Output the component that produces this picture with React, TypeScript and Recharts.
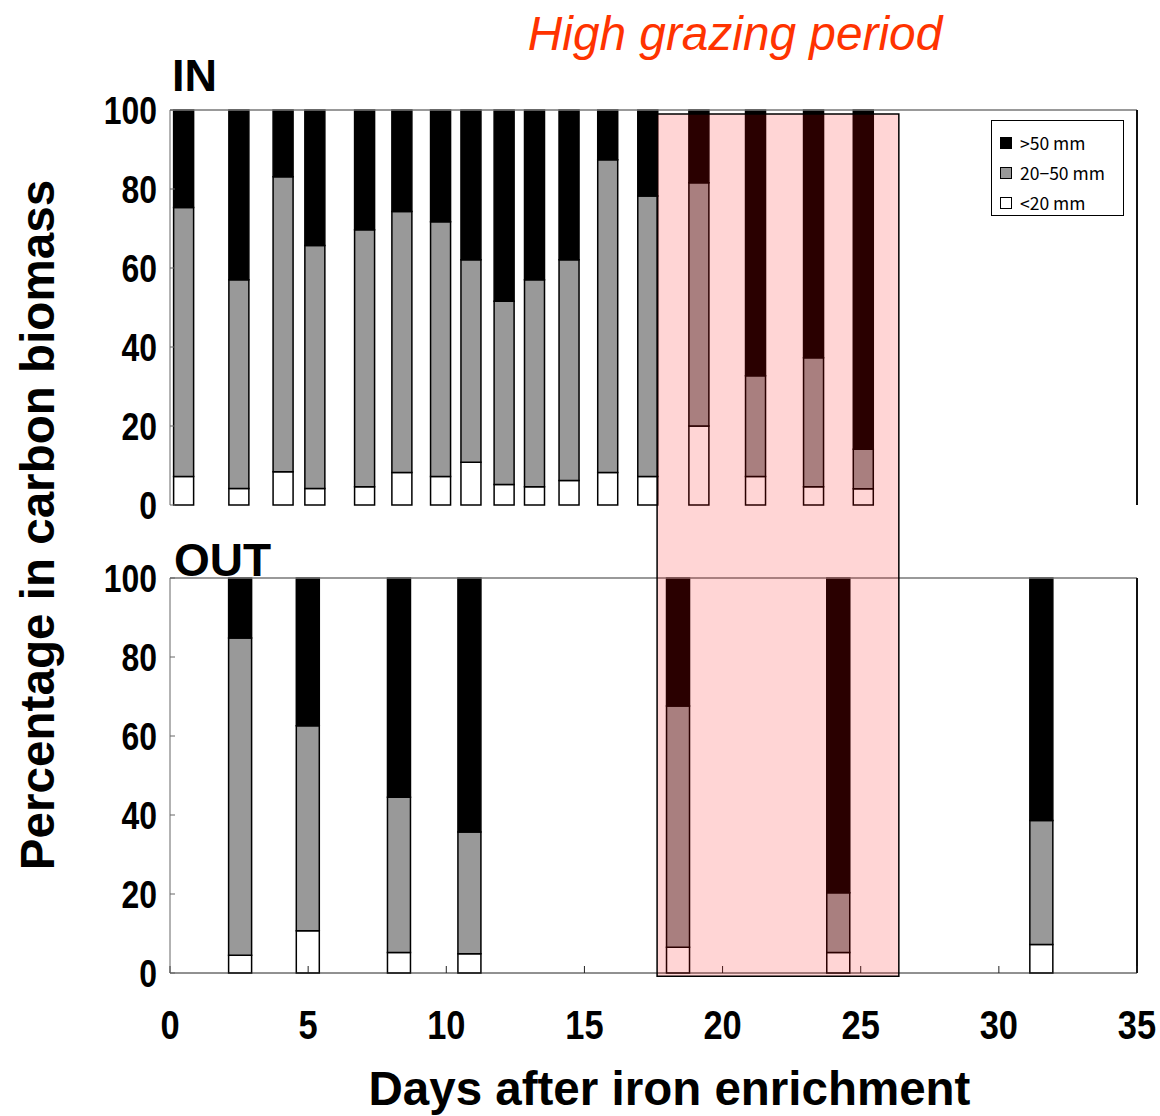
import { BarChart, Bar, XAxis, YAxis, ReferenceArea, ReferenceLine, Legend } from 'recharts'

// IN patch samples (day, % of carbon biomass by size class)
const inDays = [0.5, 2.5, 4.1, 5.25, 7.05, 8.4, 9.8, 10.9, 12.1, 13.2, 14.45, 15.85, 17.3, 19.15, 21.2, 23.3, 25.1]
const inSmall = [7.2, 4.2, 8.4, 4.2, 4.6, 8.2, 7.2, 10.8, 5.2, 4.6, 6.2, 8.2, 7.2, 20.0, 7.2, 4.6, 4.1]
const inMid = [68.1, 52.8, 74.7, 61.5, 65.1, 66.1, 64.5, 51.3, 46.4, 52.4, 55.9, 79.2, 71.0, 61.6, 25.5, 32.7, 10.0]
const inLarge = [24.7, 43.0, 16.9, 34.3, 30.3, 25.7, 28.3, 37.9, 48.4, 43.0, 37.9, 12.6, 21.8, 18.4, 67.3, 62.7, 85.9]

// OUT patch samples
const outDays = [2.55, 5.0, 8.3, 10.85, 18.4, 24.2, 31.55]
const outSmall = [4.5, 10.7, 5.2, 4.9, 6.5, 5.2, 7.2]
const outMid = [80.3, 51.9, 39.3, 30.8, 61.1, 15.1, 31.4]
const outLarge = [15.2, 37.4, 55.5, 64.3, 32.4, 79.7, 61.4]

const xTicks = [0, 5, 10, 15, 20, 25, 30, 35]
const yTicks = [0, 20, 40, 60, 80, 100]
const legendItems = ['>50 mm', '20\u221250 mm', '<20 mm']
const legendColors = ['#000000', '#999999', '#ffffff']

// high grazing period (days), top edge given in IN-panel %
const grazeStart = 17.63
const grazeEnd = 26.38
const grazeTopIn = 99
const grazeBottomOut = -0.8

const W = 1160
const H = 1116
const IN_TOP = 110
const IN_BOTTOM = 505
const OUT_TOP = 578
const OUT_BOTTOM = 973
const PLOT_RIGHT = 1137
const AXIS_W = 170

const inData = inDays.map((day, i) => ({ day, small: inSmall[i], mid: inMid[i], large: inLarge[i] }))
const outData = outDays.map((day, i) => ({ day, small: outSmall[i], mid: outMid[i], large: outLarge[i] }))

// pink box spans both panels: express its top in OUT-panel units
const pxPerPct = (OUT_BOTTOM - OUT_TOP) / 100
const grazeTopPx = IN_TOP + ((100 - grazeTopIn) * (IN_BOTTOM - IN_TOP)) / 100
const grazeTopOut = 100 + (OUT_TOP - grazeTopPx) / pxPerPct

const mainFont = '"Liberation Sans", Arial, Helvetica, sans-serif'

// no narrow font installed, so squeeze the bold tick digits horizontally
function YTick({ x, y, payload }: any) {
  return (
    <g transform={`translate(${x},${y})`}>
      <text transform="scale(0.84,1)" textAnchor="end" dy="0.36em" fontFamily={mainFont} fontWeight="bold" fontSize={38} fill="#000">
        {payload.value}
      </text>
    </g>
  )
}

function XTick({ x, y, payload }: any) {
  return (
    <g transform={`translate(${x},${y})`}>
      <text transform="scale(0.84,1)" textAnchor="middle" dy="0.71em" fontFamily={mainFont} fontWeight="bold" fontSize={41} fill="#000">
        {payload.value}
      </text>
    </g>
  )
}

function LegendBox() {
  return (
    <div
      style={{
        border: '1px solid #000',
        background: '#fff',
        width: 131,
        height: 94,
        boxSizing: 'content-box',
        fontFamily: '"Noto Sans CJK JP", "Liberation Sans", sans-serif',
        fontSize: 17.5,
        lineHeight: '20px',
        color: '#000',
        overflow: 'hidden',
      }}
    >
      {legendItems.map((label, i) => (
        <div key={label} style={{ display: 'flex', alignItems: 'center', height: 30, marginTop: i === 0 ? 7 : 0 }}>
          <span
            style={{
              display: 'inline-block',
              width: 10,
              height: 10,
              marginLeft: 8,
              marginRight: 8,
              background: legendColors[i],
              border: '1.5px solid #000',
            }}
          />
          <span>{label}</span>
        </div>
      ))}
    </div>
  )
}

export default function App() {
  const bars = (size: number) => [
    <Bar key="s" dataKey="small" stackId="a" fill="#ffffff" stroke="#000" strokeWidth={1.5} barSize={size} isAnimationActive={false} />,
    <Bar key="m" dataKey="mid" stackId="a" fill="#999999" stroke="#000" strokeWidth={1.5} barSize={size} isAnimationActive={false} />,
    <Bar key="l" dataKey="large" stackId="a" fill="#000000" stroke="#000" strokeWidth={1.5} barSize={size} isAnimationActive={false} />,
  ]

  // plot frame: top edge grey, right edge dark
  const frame = [
    <ReferenceLine key="ft" y={100} stroke="#777" strokeWidth={1.5} ifOverflow="visible" />,
    <ReferenceLine key="fr" x={35} stroke="#111" strokeWidth={2} ifOverflow="visible" />,
  ]

  return (
    <div style={{ position: 'absolute', left: 0, top: 0, width: W, height: H, background: '#fff' }}>
      <svg width={W} height={H} style={{ position: 'absolute', left: 0, top: 0 }}>
        <text x={735} y={50} textAnchor="middle" fontFamily={mainFont} fontStyle="italic" fontSize={47.8} fill="#ff3300">
          High grazing period
        </text>
        <text x={172} y={91} fontFamily={mainFont} fontWeight="bold" fontSize={45} fill="#000">IN</text>
        <text x={174} y={576} fontFamily={mainFont} fontWeight="bold" fontSize={46} fill="#000">OUT</text>
        <text
          transform="translate(54, 525) rotate(-90)"
          textAnchor="middle"
          fontFamily={mainFont}
          fontWeight="bold"
          fontSize={47.6}
          fill="#000"
        >
          Percentage in carbon biomass
        </text>
      </svg>

      <div style={{ position: 'absolute', left: 0, top: 0 }}>
        <BarChart width={W} height={H} data={inData} margin={{ top: IN_TOP, right: W - PLOT_RIGHT, bottom: H - IN_BOTTOM, left: 0 }}>
          <XAxis dataKey="day" type="number" domain={[0, 35]} ticks={xTicks} allowDataOverflow tick={false} tickSize={-7} height={0} stroke="#222" />
          <YAxis type="number" domain={[0, 100]} ticks={yTicks} width={AXIS_W} tickSize={-5} tickMargin={18} stroke="#666" tick={<YTick />} />
          {frame}
          {bars(20)}
          <Legend
            layout="horizontal"
            verticalAlign="middle"
            align="center"
            content={() => <LegendBox />}
            wrapperStyle={{ position: 'absolute', left: 991, top: 120, width: 133, height: 96 }}
          />
        </BarChart>
      </div>

      <div style={{ position: 'absolute', left: 0, top: 0 }}>
        <BarChart width={W} height={H} data={outData} margin={{ top: OUT_TOP, right: W - PLOT_RIGHT, bottom: 0, left: 0 }}>
          <XAxis
            dataKey="day"
            type="number"
            domain={[0, 35]}
            ticks={xTicks}
            allowDataOverflow
            height={H - OUT_BOTTOM}
            tickSize={-7}
            tickMargin={44}
            stroke="#222"
            tick={<XTick />}
            label={{ value: 'Days after iron enrichment', position: 'insideBottom', offset: 11, dx: 16, fontFamily: mainFont, fontWeight: 'bold', fontSize: 47.5, fill: '#000' }}
          />
          <YAxis type="number" domain={[0, 100]} ticks={yTicks} width={AXIS_W} tickSize={-5} tickMargin={18} stroke="#666" tick={<YTick />} />
          {frame}
          {bars(23)}
          <ReferenceArea
            x1={grazeStart}
            x2={grazeEnd}
            y1={grazeBottomOut}
            y2={grazeTopOut}
            ifOverflow="visible"
            fill="#ff0000"
            fillOpacity={0.165}
            stroke="#000"
            strokeWidth={1.5}
            zIndex={1000}
          />
        </BarChart>
      </div>
    </div>
  )
}
